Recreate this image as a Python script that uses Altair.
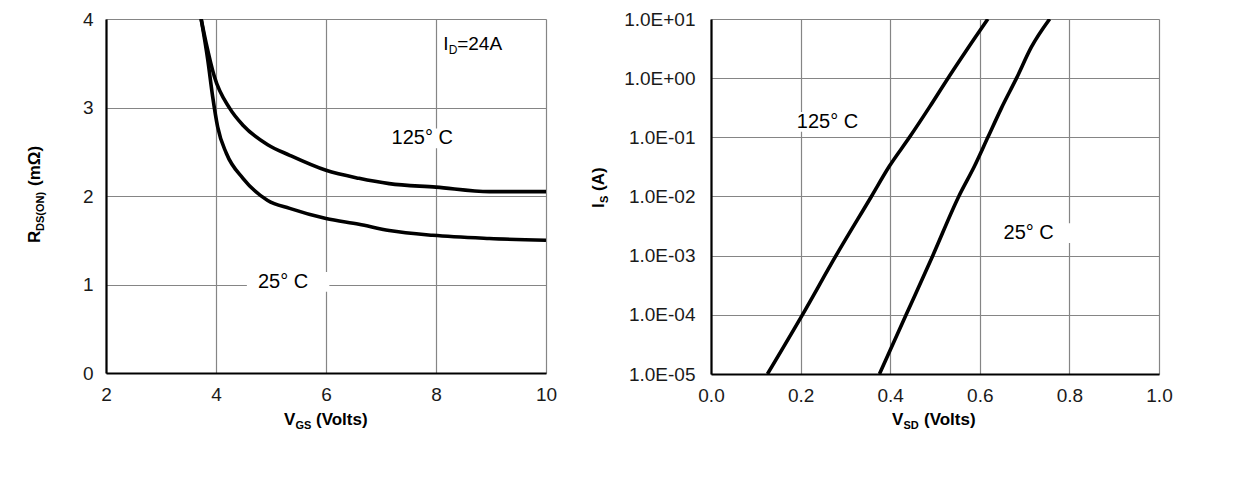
import altair as alt
import pandas as pd

FONT = "Liberation Sans"

# ---------------- Left panel: R_DS(ON) vs V_GS ----------------
vgs_25 = [3.73, 3.85, 3.94, 4.03, 4.19, 4.49, 4.94, 5.34, 6.00, 6.60, 7.15, 7.94, 8.97, 10.0]
rds_25 = [4.00, 3.54, 3.12, 2.78, 2.48, 2.20, 1.95, 1.86, 1.745, 1.68, 1.61, 1.556, 1.52, 1.50]
vgs_125 = [3.73, 3.82, 3.97, 4.25, 4.49, 4.94, 5.34, 6.00, 6.60, 7.15, 8.00, 8.97, 10.0]
rds_125 = [4.00, 3.73, 3.35, 2.99, 2.80, 2.58, 2.46, 2.29, 2.20, 2.14, 2.10, 2.05, 2.05]
left_x_ticks = [2, 4, 6, 8, 10]
left_y_ticks = [0, 1, 2, 3, 4]
left_note_text = ["125° C", "25° C"]
left_note_x = [7.75, 5.22]
left_note_y = [2.65, 1.03]
id_note_x = [8.13]
id_note_y = [3.72]

# ---------------- Right panel: I_S vs V_SD ----------------
vsd_125 = [0.126, 0.204, 0.279, 0.358, 0.398, 0.443, 0.488, 0.529, 0.570, 0.618]
is_125 = [1e-5, 1e-4, 1e-3, 1e-2, 0.0324, 0.1, 0.327, 1.0, 2.94, 10.0]
vsd_25 = [0.376, 0.4355, 0.495, 0.553, 0.588, 0.618, 0.648, 0.682, 0.715, 0.756]
is_25 = [1e-5, 1e-4, 1e-3, 1e-2, 0.0324, 0.1, 0.309, 1.0, 3.34, 10.0]
right_x_ticks = [0.0, 0.2, 0.4, 0.6, 0.8, 1.0]
right_y_ticks = [1e-5, 1e-4, 1e-3, 1e-2, 1e-1, 1.0, 10.0]
right_y_labels = ["1.0E-05", "1.0E-04", "1.0E-03", "1.0E-02", "1.0E-01", "1.0E+00", "1.0E+01"]
right_note_text = ["125° C", "25° C"]
right_note_x = [0.26, 0.709]
right_note_y = [0.182, 0.0024]

LW, LH = 440, 354
RW, RH = 448, 355
BOX = "M-1,-0.24L1,-0.24L1,0.24L-1,0.24Z"


def axis(values, pad, **kw):
    return alt.Axis(values=values, title=None, ticks=False, grid=True, labelFlush=False,
                    gridColor="#858585", gridWidth=1.2, domainColor="black",
                    domainWidth=2.2, labelFont=FONT, labelFontSize=19,
                    labelColor="#1a1a1a", labelPadding=pad, zindex=0, **kw)


def txt(text, x, y, size, angle=0, bold=True, align="left"):
    return alt.Chart(pd.DataFrame({"t": [text]})).mark_text(
        font=FONT, fontSize=size, fontWeight="bold" if bold else "normal",
        angle=angle, align=align, baseline="alphabetic", color="black",
    ).encode(x=alt.value(x), y=alt.value(y), text="t:N")


# ---- left ----
left_df = pd.concat([
    pd.DataFrame({"v": vgs_25, "r": rds_25, "s": "25", "i": range(len(vgs_25))}),
    pd.DataFrame({"v": vgs_125, "r": rds_125, "s": "125", "i": range(len(vgs_125))}),
])
lx = alt.X("v:Q", scale=alt.Scale(domain=[2, 10], nice=False, zero=False),
           axis=axis(left_x_ticks, 12, format="d"))
ly = alt.Y("r:Q", scale=alt.Scale(domain=[0, 4], nice=False),
           axis=axis(left_y_ticks, 13, format="d"))
left_lines = alt.Chart(left_df).mark_line(color="black", strokeWidth=3.6, clip=True,
                                          interpolate="monotone").encode(
    x=lx, y=ly, detail="s:N", order="i:Q")

lnote = pd.DataFrame({"t": left_note_text, "x": left_note_x, "y": left_note_y})
left_boxes = alt.Chart(lnote).mark_point(shape=BOX, filled=True, color="white", opacity=1,
                                         size=6800, xOffset=5).encode(
    x=alt.X("x:Q"), y=alt.Y("y:Q"))
left_notes = alt.Chart(lnote).mark_text(font=FONT, fontSize=20, color="black").encode(
    x="x:Q", y="y:Q", text="t:N")

idf = pd.DataFrame({"x": id_note_x, "y": id_note_y})
id_main = alt.Chart(idf).mark_text(font=FONT, fontSize=19, align="left", baseline="middle",
                                   color="black", text="I").encode(x="x:Q", y="y:Q")
id_sub = alt.Chart(idf).mark_text(font=FONT, fontSize=12, align="left", baseline="middle",
                                  color="black", text="D", dx=5.5, dy=6).encode(x="x:Q", y="y:Q")
id_rest = alt.Chart(idf).mark_text(font=FONT, fontSize=19, align="left", baseline="middle",
                                   color="black", text="=24A", dx=14).encode(x="x:Q", y="y:Q")

left = alt.layer(
    left_boxes, left_lines, left_notes, id_main, id_sub, id_rest,
    txt("R", -66, 224, 17, angle=270),
    txt("DS(ON)", -62, 212, 11, angle=270),
    txt("(mΩ)", -66, 167, 17, angle=270),
    txt("V", 178, 406, 17),
    txt("GS", 189.5, 410, 11),
    txt("(Volts)", 210, 406, 17),
).properties(width=LW, height=LH)

# ---- right ----
right_df = pd.concat([
    pd.DataFrame({"v": vsd_25, "c": is_25, "s": "25", "i": range(len(vsd_25))}),
    pd.DataFrame({"v": vsd_125, "c": is_125, "s": "125", "i": range(len(vsd_125))}),
])
label_arr = "[" + ",".join("'%s'" % s for s in right_y_labels) + "]"
rx = alt.X("v:Q", scale=alt.Scale(domain=[0, 1], nice=False),
           axis=axis(right_x_ticks, 12, format=".1f"))
ry = alt.Y("c:Q", scale=alt.Scale(type="log", domain=[1e-5, 10], nice=False),
           axis=axis(right_y_ticks, 16,
                     labelExpr=label_arr + "[round(log(datum.value)/LN10)+5]"))
right_lines = alt.Chart(right_df).mark_line(color="black", strokeWidth=3.6, clip=True,
                                            interpolate="monotone").encode(
    x=rx, y=ry, detail="s:N", order="i:Q")
rnote = pd.DataFrame({"t": right_note_text, "x": right_note_x, "c": right_note_y})
right_boxes = alt.Chart(rnote).mark_point(shape=BOX, filled=True, color="white", opacity=1,
                                          size=6800, xOffset=3).encode(
    x="x:Q", y="c:Q")
right_notes = alt.Chart(rnote).mark_text(font=FONT, fontSize=20, color="black").encode(
    x="x:Q", y="c:Q", text="t:N")

right = alt.layer(
    right_boxes, right_lines, right_notes,
    txt("I", -107, 189, 17, angle=270),
    txt("S", -103, 184, 11, angle=270),
    txt("(A)", -107, 172, 17, angle=270),
    txt("V", 181, 406, 17),
    txt("SD", 192.5, 410, 11),
    txt("(Volts)", 213, 406, 17),
).properties(width=RW, height=RH)

chart = alt.hconcat(left, right, spacing=31).properties(
    padding={"left": 17, "top": 1, "right": 0, "bottom": 0}
).configure_view(stroke=None).configure(background="white")

chart.save("out.html", embed_options={"renderer": "svg", "actions": False})
